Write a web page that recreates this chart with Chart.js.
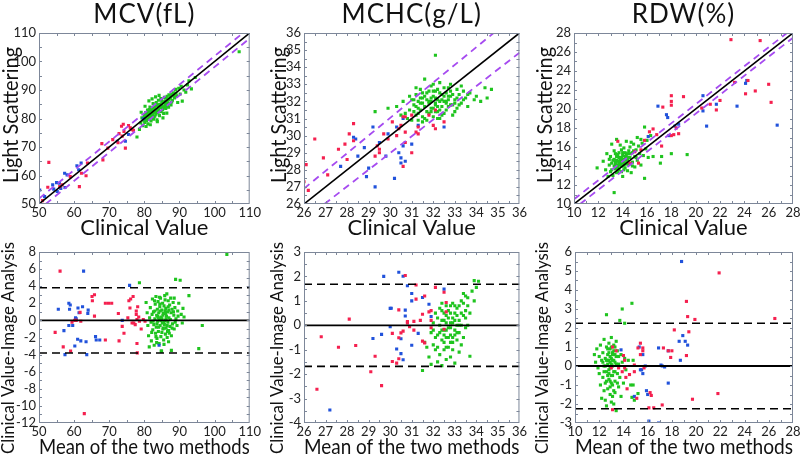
<!DOCTYPE html>
<html>
<head>
<meta charset="utf-8">
<script src="https://cdn.jsdelivr.net/npm/chart.js@4.4.1/dist/chart.umd.min.js"></script>
<style>
  html, body { margin: 0; padding: 0; background: #fff; }
  #wrap { position: relative; width: 802px; height: 458px; overflow: hidden; }
  .cell { position: absolute; }
</style>
</head>
<body>
<div id="wrap">
  <div class="cell" style="left:0;top:0"><canvas id="c1" width="262" height="240"></canvas></div>
  <div class="cell" style="left:262px;top:0"><canvas id="c2" width="266" height="240"></canvas></div>
  <div class="cell" style="left:528px;top:0"><canvas id="c3" width="274" height="240"></canvas></div>
  <div class="cell" style="left:0;top:232px"><canvas id="c4" width="262" height="226"></canvas></div>
  <div class="cell" style="left:262px;top:232px"><canvas id="c5" width="266" height="226"></canvas></div>
  <div class="cell" style="left:528px;top:232px"><canvas id="c6" width="274" height="226"></canvas></div>
</div>
<script>
// ---- data: [x, y] ----

// MCV scatter (clinical vs light scattering)
const mcvGreen = [
  [77.9,73.5],[78.6,76.2],[79.0,78.4],[79.3,80.2],[79.6,77.5],[79.8,79.4],[80.0,81.2],[80.1,78.6],[80.3,80.0],[80.4,82.1],
  [80.6,79.2],[80.7,80.8],[80.9,83.0],[81.0,78.1],[81.1,81.6],[81.2,79.8],[81.4,82.5],[81.5,80.6],[81.6,84.0],[81.8,81.3],
  [81.9,79.1],[82.0,82.8],[82.1,80.4],[82.3,83.6],[82.4,81.7],[82.5,85.2],[82.6,79.8],[82.8,82.2],[82.9,84.1],[83.0,80.9],
  [83.1,83.0],[83.3,81.5],[83.4,85.6],[83.5,82.6],[83.6,79.5],[83.8,84.3],[83.9,82.0],[84.0,86.4],[84.1,83.2],[84.3,81.0],
  [84.4,85.0],[84.5,83.8],[84.7,87.0],[84.8,82.4],[85.0,84.6],[85.1,86.0],[85.2,83.1],[85.4,85.5],[85.5,81.8],[85.7,87.4],
  [85.8,84.2],[86.0,86.2],[86.1,83.5],[86.3,85.0],[86.5,87.8],[86.6,84.6],[86.8,86.5],[87.0,88.3],[87.2,85.3],[87.4,87.1],
  [87.6,84.8],[87.8,88.6],[88.0,86.4],[88.3,89.0],[88.6,87.2],[88.9,90.2],[89.2,88.0],[89.5,85.6],[89.8,90.6],[90.2,88.6],
  [90.5,91.3],[90.8,86.1],[91.3,90.0],[91.8,89.2],[92.3,91.8],[92.7,93.2],[93.4,90.4],[94.5,94.4],[107.0,103.4],
  [80.2,84.3],[81.3,86.2],[82.2,86.9],[83.2,87.6],[84.2,88.1],[80.5,77.2],[81.7,77.8],[83.7,78.9],[85.3,80.2],[86.4,81.9],[79.1,82.2],
  [80.8,81.8],[81.4,80.2],[81.9,83.7],[82.3,81.1],[82.7,83.2],[83.2,82.3],[83.6,84.8],[84.0,82.7],[84.6,84.1],[85.0,85.8],
  [85.5,84.0],[86.0,85.3],[86.5,86.0],[87.0,86.8],[87.5,88.0],[82.0,80.2],[83.0,84.6],[84.2,84.7],[85.3,83.6],[86.2,87.3],
  [81.5,83.1],[82.8,80.6],[83.8,83.1],[84.9,86.6],[86.9,84.0],[88.4,87.8],[89.0,88.9],[80.0,80.3],[81.2,82.9],[87.8,85.8]
];
const mcvRed = [
  [52.8,64.6],[52.5,55.9],[51.0,51.2],[55.9,56.1],[56.6,56.7],[58.9,59.6],[61.5,56.1],[62.1,60.8],[63.4,59.9],[63.8,64.4],
  [67.9,71.2],[68.2,65.5],[69.6,69.6],[71.0,72.6],[72.8,74.7],[73.5,77.3],[73.7,73.8],[74.2,75.5],[74.6,69.6],[76.0,76.7],
  [76.5,76.1],[75.5,77.5],[76.9,75.9],[74.0,78.0],[72.5,71.5]
];
const mcvBlue = [
  [50.2,54.9],[51.6,52.6],[53.9,56.7],[55.0,57.5],[55.2,54.4],[55.8,57.3],[57.3,60.8],[58.0,60.2],[57.4,55.8],[60.8,63.4],
  [62.0,64.4],[61.3,62.0],[72.3,72.0],[74.6,72.0],[75.5,74.4],[79.7,79.9],[54.2,55.2],[56.2,55.5]
];
const mcvUpper = [[50, 51.9], [108.1, 110]];
const mcvLower = [[51.9, 50], [110, 108.1]];
const mcvIdentity = [[50, 50], [110, 110]];

// MCHC scatter
const mchcGreen = [
  [29.3,31.4],[29.9,31.6],[30.3,31.7],[30.6,32.0],[30.5,31.2],[30.8,31.0],[30.9,31.5],[31.0,32.1],[31.0,30.9],[31.1,31.8],
  [31.2,32.4],[31.2,31.2],[31.3,30.9],[31.3,32.0],[31.4,31.5],[31.4,32.7],[31.5,31.1],[31.5,32.2],[31.6,33.3],[31.6,31.7],
  [31.7,30.9],[31.7,32.5],[31.8,31.3],[31.8,32.0],[31.9,31.6],[31.9,32.9],[32.0,31.1],[32.0,32.3],[32.1,34.7],[32.1,31.8],
  [32.1,32.6],[32.2,31.4],[32.2,32.1],[32.3,33.1],[32.3,31.0],[32.4,31.7],[32.4,32.4],[32.5,31.3],[32.5,32.8],[32.6,32.0],
  [32.6,31.5],[32.7,32.3],[32.8,31.8],[32.8,32.6],[32.9,31.2],[33.0,32.1],[33.1,32.7],[33.1,31.6],[33.2,32.4],[33.3,31.9],
  [33.4,32.6],[33.5,32.2],[33.6,31.7],[33.7,32.5],[33.9,32.1],[34.0,32.3],[34.2,32.0],[34.4,32.8],[34.5,32.2],[34.7,32.7],
  [31.4,31.9],[31.6,32.3],[31.8,32.6],[32.0,31.6],[32.2,32.7],[32.4,31.2],[32.6,32.5],[31.1,31.4],[31.3,31.6],[31.5,31.9],
  [31.7,32.1],[31.9,32.2],[32.1,31.9],[32.3,32.0],[32.5,32.0],[32.7,31.7],[32.9,32.4],[30.7,31.3],[30.9,32.3],[31.2,32.8],
  [32.0,33.0],[32.8,33.0],[33.3,32.9],[31.5,30.8],[32.2,31.0],[33.0,31.4],
  [31.3,31.3],[31.5,32.5],[31.7,31.4],[31.9,32.0],[32.1,32.2],[32.3,31.5],[32.5,32.3],[32.7,32.1],[32.9,31.8],[33.1,32.2],
  [31.6,31.0],[31.8,31.9],[32.0,32.6],[32.2,31.7],[32.4,32.1],[32.6,31.9],[32.8,32.3],[33.0,31.9],[31.2,31.7],[31.4,32.2],
  [33.2,31.8],[33.4,32.1],[32.3,32.5],[31.9,31.4],[32.7,32.8],[31.1,32.1],[33.6,32.4],[32.1,31.4]
];
const mchcRed = [
  [26.0,27.3],[26.1,28.3],[26.2,26.8],[26.5,29.8],[26.9,28.7],[27.1,27.7],[27.6,29.2],[27.9,29.5],[28.1,30.1],[28.0,28.6],
  [28.3,29.7],[28.3,30.7],[29.3,28.8],[29.4,29.4],[29.5,29.2],[29.5,29.0],[29.7,30.1],[29.9,29.8],[30.1,30.8],[30.3,30.0],
  [30.4,30.4],[30.5,30.6],[30.6,31.1],[30.6,28.2],[30.7,29.6],[30.7,31.1],[30.7,30.2],[31.0,29.0],[31.0,31.2],[31.2,30.2],
  [31.3,30.1],[31.3,30.5],[31.8,31.2],[32.0,30.6],[32.1,30.4],[32.1,31.5],[32.5,30.8]
];
const mchcBlue = [
  [27.7,28.2],[28.3,29.9],[28.4,29.8],[28.5,28.8],[28.8,29.3],[28.9,27.6],[29.0,28.1],[29.2,30.5],[29.5,29.6],[29.3,27.0],
  [29.8,28.8],[29.9,30.1],[30.2,27.5],[30.3,30.5],[30.4,29.0],[30.5,28.7],[30.5,28.4],[30.6,29.4],[30.7,28.5],[31.0,29.5],
  [31.3,30.6],[32.5,30.5],[30.6,31.0]
];
const mchcUpper = [[26, 26.9], [34.8, 36]];
const mchcLower = [[26.95, 26], [36, 34.85]];
const mchcIdentity = [[26, 26], [36, 36]];

// RDW scatter
const rdwGreen = [
  [11.9,13.8],[12.4,14.5],[12.6,13.6],[12.8,12.9],[12.9,14.1],[13.0,13.4],[13.0,15.0],[13.1,14.3],[13.2,13.0],[13.3,11.2],
  [13.3,14.7],[13.3,15.6],[13.4,13.7],[13.4,14.2],[13.5,16.8],[13.5,14.6],[13.5,13.3],[13.6,14.0],[13.6,15.2],[13.7,14.4],
  [13.7,13.6],[13.8,14.8],[13.8,14.1],[13.8,16.2],[13.9,13.4],[13.9,14.5],[14.0,15.4],[14.0,14.0],[14.0,12.9],[14.1,14.7],
  [14.1,15.9],[14.2,13.8],[14.2,14.3],[14.3,15.1],[14.3,16.6],[14.4,14.6],[14.4,13.5],[14.5,15.6],[14.5,14.2],[14.6,16.0],
  [14.6,14.9],[14.7,13.3],[14.8,15.4],[14.8,14.4],[14.9,16.3],[15.0,15.0],[15.0,13.9],[15.1,15.7],[15.2,14.6],[15.3,16.1],
  [15.4,15.3],[15.5,14.1],[15.6,16.4],[15.7,15.1],[15.8,18.1],[15.8,12.7],[15.9,15.8],[16.0,16.7],[16.1,14.9],[16.3,17.2],
  [16.5,15.0],[17.1,14.3],[17.2,15.0],[18.0,15.3],[19.3,15.2],[13.6,14.5],[13.8,14.3],[14.0,14.6],[13.7,14.9],[14.2,15.0],
  [13.9,15.7],[14.4,15.3],[12.7,15.3],[13.1,16.3],[14.7,16.5],[15.2,17.0],[15.5,16.8],
  [13.4,14.4],[13.5,14.1],[13.6,13.8],[13.7,14.2],[13.8,14.6],[13.9,14.0],[14.0,14.3],[14.1,14.1],[14.2,14.6],[14.3,14.2],
  [13.5,15.0],[13.7,15.4],[14.0,15.1],[14.3,14.8],[14.5,14.9],[13.3,14.0],[13.2,14.6],[13.6,13.4],[14.1,13.6],[14.6,15.3],
  [12.9,14.7],[13.1,13.6],[14.9,15.6],[15.1,14.9],[14.8,14.0],[13.9,14.9],[14.2,15.4],[13.4,15.3]
];
const rdwRed = [
  [17.3,20.2],[18.0,21.4],[18.0,20.8],[18.0,20.4],[19.0,21.3],[16.5,17.9],[16.2,17.6],[16.8,17.3],[17.2,16.1],[18.0,17.2],
  [18.2,17.3],[18.6,17.4],[18.4,18.0],[20.5,20.1],[21.2,20.5],[21.7,19.9],[22.0,20.9],[22.9,27.3],[23.2,22.8],[24.1,21.6],
  [24.3,23.0],[24.9,21.9],[25.3,27.2],[26.0,22.6],[26.2,20.7],[15.8,16.7],[15.5,15.7],[15.0,15.5],[14.6,14.3],[13.6,16.6],[15.3,14.3]
];
const rdwBlue = [
  [16.9,20.3],[17.6,19.4],[17.7,19.1],[17.8,17.2],[18.6,18.4],[18.3,18.2],[20.6,21.4],[20.6,19.8],[20.9,18.2],[21.7,20.5],
  [23.4,20.3],[24.1,22.7],[24.2,23.0],[26.7,18.3],[16.1,17.1]
];
const rdwUpper = [[10, 10.5], [27.5, 28]];
const rdwLower = [[10.5, 10], [28, 27.5]];
const rdwIdentity = [[10, 10], [28, 28]];

// Bland-Altman: [mean of the two methods, clinical - image]
const mcvBaGreen = [
  [78.6,4.4],[80.5,2.1],[80.8,0.9],[81.0,-0.6],[81.2,-1.8],[81.4,-3.1],[81.5,0.3],[81.7,1.5],[81.9,-0.2],[82.0,-2.4],
  [82.2,0.7],[82.3,2.5],[82.4,-1.1],[82.6,1.0],[82.7,-0.5],[82.8,-2.9],[83.0,0.2],[83.1,1.9],[83.2,-1.5],[83.3,2.8],
  [83.4,-0.8],[83.5,0.6],[83.6,-2.1],[83.7,1.3],[83.8,-0.1],[83.9,2.2],[84.0,-1.3],[84.1,0.9],[84.2,-2.7],[84.3,0.1],
  [84.4,1.6],[84.5,-0.6],[84.6,2.6],[84.7,-1.9],[84.8,0.4],[84.9,-3.6],[85.0,1.2],[85.1,-0.3],[85.2,2.0],[85.3,-1.0],
  [85.4,0.8],[85.5,-2.3],[85.6,1.7],[85.7,-0.5],[85.8,2.9],[85.9,0.0],[86.0,-1.6],[86.1,1.4],[86.2,-0.9],[86.3,0.5],
  [86.4,3.1],[86.5,-2.0],[86.6,1.0],[86.7,-0.2],[86.8,2.3],[86.9,-1.2],[87.0,0.3],[87.2,1.8],[87.3,-0.7],[87.5,2.6],
  [87.6,0.9],[87.7,-1.8],[87.9,1.3],[88.0,-0.4],[88.2,2.1],[88.4,0.6],[88.5,-1.0],[88.7,1.5],[88.9,4.8],[89.0,0.2],
  [89.3,-0.6],[89.5,1.1],[89.8,2.0],[90.2,4.7],[90.5,0.7],[90.8,-0.3],[91.0,1.4],[91.3,0.4],[92.7,2.9],[95.5,-3.3],
  [96.5,-0.6],[103.5,7.7],[87.7,-3.5],[84.8,-3.6],[83.5,-2.6],[85.6,-2.8],[86.9,-2.5],[82.9,2.3],[84.3,2.7],[85.9,2.4],
  [82.5,-0.1],[83.0,1.1],[83.3,-1.9],[83.8,0.5],[84.1,-0.8],[84.4,1.9],[84.7,0.0],[85.0,-1.4],[85.3,0.6],[85.6,-0.2],
  [85.9,1.1],[86.2,0.2],[86.5,-0.6],[86.8,1.6],[87.1,-1.5],[87.4,0.1],[87.9,-0.9],[88.3,1.0],[88.8,-0.2],[89.6,0.5],
  [84.0,0.3],[85.0,0.2],[86.0,0.8],[83.6,-0.4],[85.4,-0.9],[86.6,-1.3],[84.5,1.1],[87.0,1.2],[82.1,-1.4],[88.5,2.6]
];
const mcvBaRed = [
  [56.0,5.76],[54.6,-1.4],[56.9,-3.1],[59.0,-3.6],[59.4,-0.2],[60.2,0.0],[60.6,0.0],[61.7,0.94],[61.9,-0.1],[62.9,-10.9],
  [65.1,2.8],[65.2,2.3],[65.8,0.5],[65.8,3.0],[68.9,-2.3],[68.9,2.0],[69.8,2.0],[70.7,2.0],[72.6,0.8],[72.8,-2.4],
  [73.7,-0.7],[74.2,-1.5],[75.3,0.3],[75.6,2.3],[76.1,2.5],[75.9,1.45],[76.5,-0.3],[76.8,2.8],[77.0,-0.3],[77.4,-0.5],
  [77.7,1.1],[77.7,0.7],[77.9,0.1],[77.9,-2.7],[78.0,-3.8],[78.1,1.6],[78.4,0.4],[78.6,-0.1],[79.1,-1.0],[79.7,0.1],[80.2,-0.1]
];
const mcvBaBlue = [
  [55.5,1.3],[57.1,-1.2],[57.4,-4.0],[58.5,2.0],[58.9,1.8],[58.7,1.3],[58.5,-0.6],[59.6,-0.6],[60.2,-3.0],[60.4,0.3],
  [60.6,0.2],[61.1,1.45],[61.0,-2.2],[61.4,0.9],[61.9,-2.4],[62.4,1.6],[62.7,5.76],[63.4,-2.5],[63.6,-4.0],[64.0,1.2],
  [63.9,0.8],[66.1,-1.9],[66.3,-2.3],[67.3,-2.3],[75.8,4.1],[73.7,0.0],[84.2,-2.9]
];
const mcvLoa = [3.82, -3.82];

const mchcBaGreen = [
  [31.5,-1.85],[31.6,-0.7],[31.7,-0.9],[31.8,-1.3],[31.9,-1.6],[31.9,-0.3],[32.0,0.1],[32.0,-0.8],[32.1,0.5],[32.1,-1.0],
  [32.2,-0.4],[32.2,0.3],[32.3,-1.2],[32.3,0.0],[32.4,0.6],[32.4,-0.6],[32.4,-1.65],[32.5,0.2],[32.5,-0.2],[32.5,-1.0],
  [32.6,0.8],[32.6,-0.5],[32.6,0.4],[32.7,-0.1],[32.7,-0.9],[32.7,0.6],[32.8,0.1],[32.8,-0.4],[32.8,-1.3],[32.9,0.3],
  [32.9,-0.7],[32.9,0.9],[33.0,-0.2],[33.0,0.5],[33.0,-1.55],[33.1,0.0],[33.1,-0.6],[33.1,0.7],[33.2,-1.1],[33.2,0.2],
  [33.2,-0.3],[33.3,1.0],[33.3,0.0],[33.4,-0.5],[33.4,0.4],[33.5,1.2],[33.5,-0.1],[33.6,0.8],[33.6,1.13],[33.7,-1.27],
  [33.7,0.5],[33.8,1.4],[33.9,1.83],[34.0,1.55],[34.1,1.8],[33.9,1.0],[32.2,-1.5],[32.6,-1.4],[32.3,0.7],[32.9,-1.0],
  [33.4,1.3],[32.4,0.9],[32.0,-0.2],[32.6,0.1],[33.0,0.2],[33.2,0.8],[32.8,0.5],[33.5,0.3],[32.5,-0.7],[32.1,-0.5],
  [32.3,-0.3],[32.4,0.2],[32.5,0.5],[32.6,-0.2],[32.7,0.3],[32.8,-0.1],[32.9,0.1],[33.0,-0.4],[33.1,0.4],[33.2,0.0],
  [33.3,0.5],[32.5,-0.4],[32.7,-0.5],[32.8,0.8],[33.0,0.8],[32.2,-0.9],[33.4,0.9],[33.6,0.0],[32.9,-0.5],[32.6,-0.9],
  [33.3,-0.8],[32.4,-0.2],[32.8,-0.7],[33.1,-0.3],[33.5,0.6]
];
const mchcBaRed = [
  [26.6,-2.62],[26.8,-0.47],[27.6,-0.9],[28.1,0.25],[28.4,-0.83],[29.3,-1.27],[29.1,-1.9],[29.6,-2.47],[30.1,-0.33],[30.1,-1.48],
  [30.3,-1.55],[30.4,-0.51],[30.4,0.63],[30.4,-1.37],[30.5,-0.31],[30.6,-0.24],[30.8,0.15],[30.7,2.04],[30.8,0.1],[30.9,-0.06],
  [31.1,0.16],[31.1,-0.2],[31.2,1.07],[31.2,1.65],[31.4,0.2],[31.5,0.45],[31.6,1.2],[31.5,-0.65],[31.6,-0.72],[31.8,0.55],
  [31.9,0.6],[31.9,0.2],[31.9,-0.1],[32.1,1.55],[32.5,1.35],[32.6,0.93],[32.6,0.55],[32.5,-0.16]
];
const mchcBaBlue = [
  [27.2,-3.47],[29.2,-0.54],[29.6,-0.37],[29.7,2.0],[30.0,0.69],[30.05,0.7],[30.0,-0.06],[30.3,-0.97],[30.4,2.17],[30.5,-0.55],
  [30.5,-1.16],[30.6,-1.41],[30.6,2.01],[30.7,0.38],[30.7,0.62],[30.8,1.62],[31.0,1.0],[31.0,-0.82],[31.0,1.3],[31.3,-0.33],
  [31.5,1.14],[31.8,0.86],[31.9,0.36],[32.5,1.48]
];
const mchcLoa = [1.68, -1.68];

const rdwBaGreen = [
  [11.6,0.6],[11.7,0.2],[11.8,0.9],[11.9,-0.1],[12.0,0.5],[12.0,-0.4],[12.1,1.1],[12.1,-1.0],[12.2,0.3],[12.2,-1.7],
  [12.3,0.7],[12.3,-0.6],[12.4,1.4],[12.4,0.0],[12.5,-0.9],[12.5,0.4],[12.5,-1.8],[12.6,2.7],[12.6,1.0],[12.6,-0.3],
  [12.7,0.6],[12.7,-1.2],[12.7,0.1],[12.8,1.2],[12.8,-0.7],[12.8,0.3],[12.9,-0.1],[12.9,0.9],[12.9,-1.5],[13.0,0.4],
  [13.0,-0.5],[13.0,1.5],[13.1,0.0],[13.1,-1.0],[13.1,0.7],[13.2,-0.3],[13.2,-2.0],[13.2,1.1],[13.3,0.2],[13.3,-0.8],
  [13.3,-1.4],[13.4,0.5],[13.4,-2.35],[13.4,1.3],[13.5,-0.4],[13.5,0.8],[13.6,-1.1],[13.6,0.1],[13.7,2.4],[13.7,-0.6],
  [13.8,0.6],[13.8,-1.6],[13.9,3.0],[13.9,0.2],[14.0,-0.9],[14.1,2.25],[14.1,0.4],[14.2,-0.2],[14.4,0.3],[14.6,-1.0],
  [14.7,3.3],[14.7,-1.65],[14.8,-1.0],[14.8,0.3],[14.9,-1.8],[15.2,-1.45],[12.4,-1.3],[12.6,-2.1],[13.0,-1.9],[12.9,0.2],
  [13.1,0.3],[12.8,-0.2],[13.3,0.6],[12.7,-0.5],[13.2,0.8],
  [12.6,0.3],[12.7,0.9],[12.8,-0.4],[12.9,0.5],[13.0,0.1],[13.0,-0.9],[13.1,0.6],[13.2,0.3],[13.3,-0.3],[13.4,0.1],
  [12.5,0.0],[12.8,0.7],[12.9,-0.8],[13.1,-0.5],[13.2,-1.3],[13.5,-0.9],[12.6,-0.8],[12.7,0.3],[13.3,1.0],[12.3,0.2],
  [12.4,-0.3],[13.0,1.0],[13.6,0.5],[12.9,-1.1],[13.1,-1.6]
];
const rdwBaRed = [
  [13.1,-2.3],[13.1,1.0],[13.0,-0.1],[13.4,0.8],[13.6,-0.1],[13.9,-0.3],[14.0,0.55],[14.1,0.3],[14.1,-0.1],[14.2,-0.6],
  [14.3,-1.2],[14.5,-0.45],[14.9,-0.3],[14.9,0.05],[15.1,-1.7],[15.2,0.95],[15.4,1.2],[15.4,0.6],[15.6,0.95],[15.6,0.8],
  [15.7,-0.1],[16.2,-1.4],[16.3,-1.55],[16.1,-2.2],[16.5,-2.2],[17.2,-2.05],[17.3,0.95],[17.7,0.8],[17.9,0.45],[18.2,1.9],
  [18.0,0.8],[19.2,3.4],[19.3,2.6],[19.4,1.8],[19.2,0.55],[19.9,2.45],[19.7,-1.75],[21.9,4.9],[21.8,-1.45],[26.5,2.5]
];
const rdwBaBlue = [
  [13.8,0.85],[14.9,-1.6],[15.3,1.0],[15.4,-0.2],[15.5,-0.2],[15.6,0.6],[15.6,-0.4],[15.8,0.0],[15.9,-1.3],[16.0,-1.5],
  [16.1,-2.9],[16.9,0.95],[17.1,0.05],[17.2,0.0],[17.4,-0.05],[17.7,-0.9],[17.7,0.8],[16.9,-3.0],[18.6,1.3],[18.7,0.3],
  [18.8,5.5],[18.9,1.6],[19.1,1.3],[19.3,1.1]
];
const rdwLoa = [2.25, -2.25];

// ---- styling ----
const GREEN = "#1fc41f";
const RED = "#f5204f";
const BLUE = "#2152db";
const PURPLE = "#a64bf0";
const FRAME = "#7d8799";
const FONT = "Lato, 'Open Sans', sans-serif";

function toXY(arr) {
  return arr.map((p) => ({ x: p[0], y: p[1] }));
}

function dots(arr, color) {
  return {
    type: "scatter",
    data: toXY(arr),
    backgroundColor: color,
    borderWidth: 0,
    pointRadius: 2.2,
    pointStyle: "rect",
  };
}

function line(arr, color, width, dash) {
  return {
    type: "line",
    data: toXY(arr),
    borderColor: color,
    borderWidth: width,
    borderDash: dash || [],
    pointRadius: 0,
    fill: false,
    tension: 0,
  };
}

// box round the plot, small inner ticks, panel title and the rotated y title
function framePlugin(p) {
  return {
    id: "frame",
    afterDraw(chart) {
      const { ctx, chartArea: a, scales } = chart;
      ctx.save();
      ctx.strokeStyle = FRAME;
      ctx.lineWidth = 1;
      ctx.strokeRect(a.left + 0.5, a.top + 0.5, a.right - a.left - 1, a.bottom - a.top - 1);
      ctx.beginPath();
      const xs = scales.x, ys = scales.y;
      const xStep = xs.options.ticks.stepSize / 2;
      for (let v = xs.min + xStep; v < xs.max; v += xStep) {
        const px = Math.round(xs.getPixelForValue(v)) + 0.5;
        ctx.moveTo(px, a.bottom); ctx.lineTo(px, a.bottom - 3);
        ctx.moveTo(px, a.top); ctx.lineTo(px, a.top + 3);
      }
      const yStep = ys.options.ticks.stepSize / 2;
      for (let v = ys.min + yStep; v < ys.max; v += yStep) {
        const py = Math.round(ys.getPixelForValue(v)) + 0.5;
        ctx.moveTo(a.left, py); ctx.lineTo(a.left + 3, py);
        ctx.moveTo(a.right, py); ctx.lineTo(a.right - 3, py);
      }
      ctx.stroke();

      ctx.fillStyle = "#111";
      ctx.textAlign = "center";
      ctx.textBaseline = "middle";
      if (p.title) {
        ctx.font = "26px " + FONT;
        if ("letterSpacing" in ctx) ctx.letterSpacing = "1px";
        ctx.fillText(p.title, (a.left + a.right) / 2, 15);
        if ("letterSpacing" in ctx) ctx.letterSpacing = "0px";
      }
      ctx.translate(p.yTitleX, p.yTitleY);
      ctx.rotate(-Math.PI / 2);
      ctx.font = p.yTitleSize + "px " + FONT;
      ctx.fillText(p.yTitle, 0, 0, p.yTitleMax);
      ctx.restore();
    },
  };
}

function makePanel(id, p) {
  const datasets = [];
  p.lines.forEach((l) => datasets.push(line(l.pts, l.color, l.width, l.dash)));
  datasets.push(dots(p.red, RED));
  datasets.push(dots(p.blue, BLUE));
  datasets.push(dots(p.green, GREEN));

  return new Chart(document.getElementById(id), {
    type: "scatter",
    data: { datasets: datasets },
    options: {
      responsive: false,
      animation: false,
      events: [],
      layout: { padding: { top: p.top, right: p.right, bottom: 0, left: 0 } },
      plugins: { legend: { display: false }, tooltip: { enabled: false } },
      scales: {
        x: {
          type: "linear",
          min: p.xMin,
          max: p.xMax,
          grid: { display: false, drawTicks: false },
          border: { display: false },
          ticks: { stepSize: p.xStep, autoSkip: false, maxRotation: 0, padding: 1, color: "#222", font: { family: FONT, size: 13 } },
          title: { display: true, text: p.xTitle, color: "#111", font: { family: FONT, size: p.xTitleSize, lineHeight: 1 }, padding: { top: 0, bottom: p.xTitlePad } },
          afterFit: (s) => { s.height = p.xH; },
        },
        y: {
          type: "linear",
          min: p.yMin,
          max: p.yMax,
          grid: { display: false, drawTicks: false },
          border: { display: false },
          ticks: { stepSize: p.yStep, autoSkip: false, padding: 3, color: "#222", font: { family: FONT, size: 13 } },
          afterFit: (s) => { s.width = p.yW; },
        },
      },
    },
    plugins: [framePlugin(p)],
  });
}

function diagLines(identity, upper, lower) {
  return [
    { pts: identity, color: "#000", width: 1.6 },
    { pts: upper, color: PURPLE, width: 1.8, dash: [7, 5] },
    { pts: lower, color: PURPLE, width: 1.8, dash: [7, 5] },
  ];
}

function baLines(xMin, xMax, loa) {
  return [
    { pts: [[xMin, 0], [xMax, 0]], color: "#000", width: 1.8 },
    { pts: [[xMin, loa[0]], [xMax, loa[0]]], color: "#000", width: 1.6, dash: [8, 5] },
    { pts: [[xMin, loa[1]], [xMax, loa[1]]], color: "#000", width: 1.6, dash: [8, 5] },
  ];
}

const topCommon = { top: 33, xH: 36, xTitle: "Clinical Value", xTitleSize: 22, xTitlePad: 1,
  yTitle: "Light Scattering", yTitleSize: 22, yTitleMax: 136, yTitleY: 115 };
const botCommon = { top: 20, xH: 35, xTitle: "Mean of the two methods", xTitleSize: 21, xTitlePad: 0,
  yTitle: "Clinical Value-Image Analysis", yTitleSize: 17, yTitleMax: 212, yTitleY: 116 };

makePanel("c1", Object.assign({}, topCommon, {
  title: "MCV(fL)", right: 6, yW: 39, yTitleX: 11,
  xMin: 50, xMax: 110, xStep: 10, yMin: 50, yMax: 110, yStep: 10,
  green: mcvGreen, red: mcvRed, blue: mcvBlue,
  lines: diagLines(mcvIdentity, mcvUpper, mcvLower),
}));
makePanel("c2", Object.assign({}, topCommon, {
  title: "MCHC(g/L)", right: 6, yW: 42, yTitleX: 17,
  xMin: 26, xMax: 36, xStep: 1, yMin: 26, yMax: 36, yStep: 1,
  green: mchcGreen, red: mchcRed, blue: mchcBlue,
  lines: diagLines(mchcIdentity, mchcUpper, mchcLower),
}));
makePanel("c3", Object.assign({}, topCommon, {
  title: "RDW(%)", right: 9, yW: 46, yTitleX: 17,
  xMin: 10, xMax: 28, xStep: 2, yMin: 10, yMax: 28, yStep: 2,
  green: rdwGreen, red: rdwRed, blue: rdwBlue,
  lines: diagLines(rdwIdentity, rdwUpper, rdwLower),
}));
makePanel("c4", Object.assign({}, botCommon, {
  title: null, right: 6, yW: 39, yTitleX: 9,
  xMin: 50, xMax: 110, xStep: 10, yMin: -12, yMax: 8, yStep: 2,
  green: mcvBaGreen, red: mcvBaRed, blue: mcvBaBlue,
  lines: baLines(50, 110, mcvLoa),
}));
makePanel("c5", Object.assign({}, botCommon, {
  title: null, right: 6, yW: 42, yTitleX: 16,
  xMin: 26, xMax: 36, xStep: 1, yMin: -4, yMax: 3, yStep: 1,
  green: mchcBaGreen, red: mchcBaRed, blue: mchcBaBlue,
  lines: baLines(26, 36, mchcLoa),
}));
makePanel("c6", Object.assign({}, botCommon, {
  title: null, right: 9, yW: 47, yTitleX: 15,
  xMin: 10, xMax: 28, xStep: 2, yMin: -3, yMax: 6, yStep: 1,
  green: rdwBaGreen, red: rdwBaRed, blue: rdwBaBlue,
  lines: baLines(10, 28, rdwLoa),
}));
</script>
</body>
</html>
